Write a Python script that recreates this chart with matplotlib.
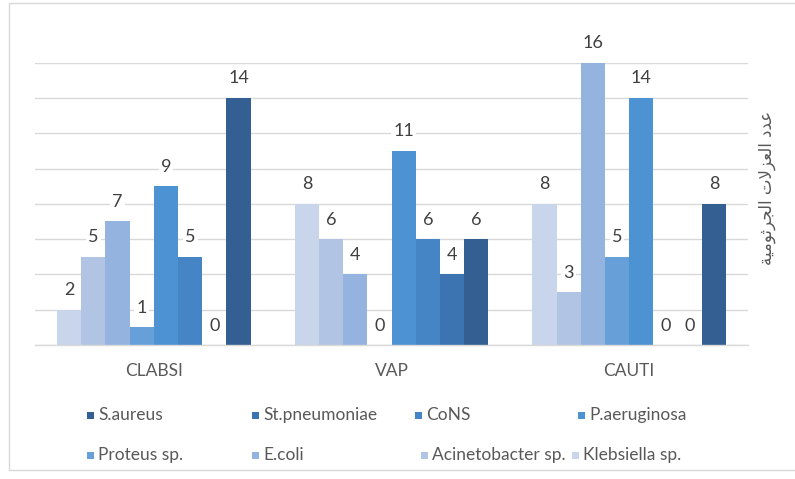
import numpy as np
import matplotlib
matplotlib.use("Agg")
import matplotlib.pyplot as plt
from matplotlib.patches import Rectangle

plt.rcParams["font.family"] = ["Lato", "DejaVu Sans"]

# Infection types on the x axis
categories = ["CLABSI", "VAP", "CAUTI"]

# Isolated organisms (legend order) and their counts per infection type
organisms = ["S.aureus", "St.pneumoniae", "CoNS", "P.aeruginosa",
             "Proteus sp.", "E.coli", "Acinetobacter sp.", "Klebsiella sp."]
s_aureus = [14, 6, 8]
st_pneumoniae = [0, 4, 0]
cons = [5, 6, 0]
p_aeruginosa = [9, 11, 14]
proteus = [1, 0, 5]
e_coli = [7, 4, 16]
acinetobacter = [5, 6, 3]
klebsiella = [2, 8, 8]
counts = [s_aureus, st_pneumoniae, cons, p_aeruginosa,
          proteus, e_coli, acinetobacter, klebsiella]

colors = ["#335f92", "#3b74b0", "#4584c5", "#4d92d3",
          "#67a0d9", "#94b3de", "#b1c4e4", "#c8d5ea"]

# Axis title "عدد العزلات الجرثومية", written in pre-shaped Arabic
# presentation forms in visual order so it renders joined right-to-left
word1 = "\ufea9\ufeaa\ufecb"
word2 = "\ufe95\ufefb\ufeb0\ufecc\ufedf\ufe8d"
word3 = "\ufe94\ufef4\ufee3\ufeee\ufe9b\ufeae\ufea0\ufedf\ufe8d"
y_title = word3 + " " + word2 + " " + word1

W, H = 795, 479
fig = plt.figure(figsize=(W / 100, H / 100), dpi=100)
ax = fig.add_axes([35 / W, 1 - 345 / H, (748 - 35) / W, (345 - 62.6) / H])

x = np.arange(len(categories))
bar_w = 0.1018
n = len(organisms)
# bars run from the lightest (last legend entry) to the darkest
for slot, idx in enumerate(range(n - 1, -1, -1)):
    offs = (slot - (n - 1) / 2) * bar_w
    bars = ax.bar(x + offs, counts[idx], width=bar_w, color=colors[idx],
                  linewidth=0, zorder=2)
    for rect, v in zip(bars, counts[idx]):
        ax.annotate(str(v), (rect.get_x() + rect.get_width() / 2, v),
                    xytext=(0, 14), textcoords="offset points",
                    ha="center", va="center", fontsize=13, color="#404040",
                    bbox=dict(boxstyle="square,pad=0.12", fc="white", ec="none"),
                    zorder=3, annotation_clip=False)

ax.set_xlim(-0.5, len(categories) - 0.5)
ax.set_ylim(0, 16)
ax.set_yticks(np.arange(0, 17, 2))
ax.yaxis.grid(True, color="#d9d9d9", linewidth=1.0, zorder=0)
ax.set_axisbelow(True)
ax.tick_params(axis="y", left=False, labelleft=False)
ax.set_xticks(x)
ax.set_xticklabels(categories, fontsize=12.5, color="#595959")
ax.tick_params(axis="x", length=0, pad=13)
for side in ["left", "right", "top"]:
    ax.spines[side].set_visible(False)
ax.spines["bottom"].set_color("#d9d9d9")
ax.spines["bottom"].set_linewidth(1.0)

fig.text(767 / W, 1 - 188 / H, y_title, rotation=90, ha="center", va="center",
         fontsize=12, color="#595959", family=["DejaVu Sans"])

# Legend, two rows of four entries
legend_pos = [(87, 415), (252, 415), (415, 415), (578, 415),
              (87, 455), (252, 455), (421, 455), (572, 455)]
msize = 7
for name, col, (px, py) in zip(organisms, colors, legend_pos):
    fig.patches.append(Rectangle((px / W, 1 - (py + msize / 2) / H),
                                 msize / W, msize / H, transform=fig.transFigure,
                                 facecolor=col, edgecolor="none"))
    fig.text((px + msize + 4) / W, 1 - py / H, name, ha="left", va="center",
             fontsize=12.5, color="#595959")

# Chart area outline
fig.patches.append(Rectangle((9 / W, 1 - 470 / H), 1.2, (470 - 3) / H,
                             transform=fig.transFigure, facecolor="none",
                             edgecolor="#d9d9d9", linewidth=1.0))

fig.savefig("out.png", dpi=100, facecolor="white")
